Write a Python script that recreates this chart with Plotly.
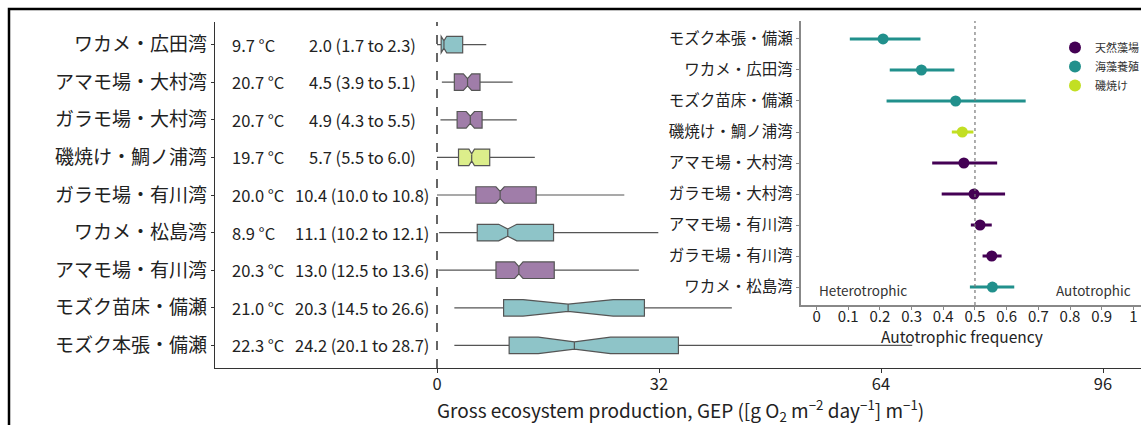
import plotly.graph_objects as go

W, H = 1141, 425
FONT = "Noto Sans CJK JP"

# ---- main panel data ----
sites = ["ワカメ・広田湾", "アマモ場・大村湾", "ガラモ場・大村湾", "磯焼け・鯛ノ浦湾", "ガラモ場・有川湾",
         "ワカメ・松島湾", "アマモ場・有川湾", "モズク苗床・備瀬", "モズク本張・備瀬"]
groups = ["海藻養殖", "天然藻場", "天然藻場", "磯焼け", "天然藻場", "海藻養殖", "天然藻場", "海藻養殖", "海藻養殖"]
gep_min = [0.0, 0.7, 0.5, 0.0, 0.0, 0.3, 0.2, 2.5, 2.5]
gep_q1 = [0.6, 2.5, 2.9, 3.1, 5.6, 5.8, 8.5, 9.6, 10.4]
gep_med = [1.0, 4.4, 4.8, 5.0, 9.1, 10.2, 11.8, 18.9, 19.8]
gep_q3 = [3.7, 6.2, 6.5, 7.6, 14.3, 16.8, 16.9, 29.9, 34.8]
gep_max = [7.1, 10.9, 11.5, 14.1, 27.0, 31.9, 29.1, 42.5, 68.5]
gep_notch = [0.4, 0.6, 0.6, 0.4, 0.6, 1.3, 0.6, 6.5, 5.2]
temps = ["9.7 °C", "20.7 °C", "20.7 °C", "19.7 °C", "20.0 °C", "8.9 °C", "20.3 °C", "21.0 °C", "22.3 °C"]
gep_text = ["2.0 (1.7 to 2.3)", "4.5 (3.9 to 5.1)", "4.9 (4.3 to 5.5)", "5.7 (5.5 to 6.0)",
            "10.4 (10.0 to 10.8)", "11.1 (10.2 to 12.1)", "13.0 (12.5 to 13.6)",
            "20.3 (14.5 to 26.6)", "24.2 (20.1 to 28.7)"]
x_ticks = [0, 32, 64, 96]
x_title = "Gross ecosystem production, GEP ([g O<sub>2</sub> m<sup>−2</sup> day<sup>−1</sup>] m<sup>−1</sup>)"

# ---- inset data ----
inset_sites = ["モズク本張・備瀬", "ワカメ・広田湾", "モズク苗床・備瀬", "磯焼け・鯛ノ浦湾", "アマモ場・大村湾",
               "ガラモ場・大村湾", "アマモ場・有川湾", "ガラモ場・有川湾", "ワカメ・松島湾"]
inset_groups = ["海藻養殖", "海藻養殖", "海藻養殖", "磯焼け", "天然藻場", "天然藻場", "天然藻場", "天然藻場", "海藻養殖"]
auto_freq = [0.21, 0.331, 0.439, 0.46, 0.465, 0.497, 0.516, 0.553, 0.555]
auto_lo = [0.105, 0.231, 0.221, 0.427, 0.365, 0.395, 0.487, 0.524, 0.484]
auto_hi = [0.328, 0.435, 0.66, 0.495, 0.57, 0.595, 0.553, 0.584, 0.624]
inset_ticks = [0, 0.1, 0.2, 0.3, 0.4, 0.5, 0.6, 0.7, 0.8, 0.9, 1]
inset_ticktext = ["0", "0.1", "0.2", "0.3", "0.4", "0.5", "0.6", "0.7", "0.8", "0.9", "1"]
legend_order = ["天然藻場", "海藻養殖", "磯焼け"]

box_fill = {"天然藻場": "#A07DA9", "海藻養殖": "#8EC4C8", "磯焼け": "#DCEE8B"}
dot_col = {"天然藻場": "#440154", "海藻養殖": "#21908C", "磯焼け": "#C2DF23"}

fig = go.Figure()

for i, s in enumerate(sites):
    fig.add_trace(go.Box(
        y=[s], q1=[gep_q1[i]], median=[gep_med[i]], q3=[gep_q3[i]],
        lowerfence=[gep_min[i]], upperfence=[gep_max[i]], notchspan=[gep_notch[i]],
        notched=True, notchwidth=0.28, orientation="h", boxpoints=False,
        fillcolor=box_fill[groups[i]], line=dict(color="#555555", width=1.2),
        whiskerwidth=0, width=0.44, showlegend=False, hoverinfo="skip",
        xaxis="x", yaxis="y"))

for g in legend_order:
    idx = [i for i, gg in enumerate(inset_groups) if gg == g]
    fig.add_trace(go.Scatter(
        x=[auto_freq[i] for i in idx], y=[inset_sites[i] for i in idx],
        mode="markers", name=g,
        marker=dict(color=dot_col[g], size=11),
        error_x=dict(type="data", symmetric=False,
                     array=[auto_hi[i] - auto_freq[i] for i in idx],
                     arrayminus=[auto_freq[i] - auto_lo[i] for i in idx],
                     color=dot_col[g], thickness=3.2, width=0),
        xaxis="x2", yaxis="y2"))


def px(x):
    return x / W


def py(y):
    return 1 - y / H


ann = []
for i, s in enumerate(sites):
    ann.append(dict(x=-29.8, y=s, xref="x", yref="y", text=temps[i], showarrow=False,
                    xanchor="left", font=dict(size=16.5, color="#222", family=FONT)))
    ann.append(dict(x=-10.8, y=s, xref="x", yref="y", text=gep_text[i], showarrow=False,
                    xanchor="center", font=dict(size=16.5, color="#222", family=FONT)))
ann.append(dict(x=0, y=inset_sites[-1], xref="x2", yref="y2", text="Heterotrophic", showarrow=False,
                xanchor="left", yshift=-3, font=dict(size=13.5, color="#333", family=FONT)))
ann.append(dict(x=1.0, y=inset_sites[-1], xref="x2", yref="y2", text="Autotrophic", showarrow=False,
                xanchor="right", yshift=-3, font=dict(size=13.5, color="#333", family=FONT)))
ann.append(dict(x=px(961.7), y=py(336), xref="paper", yref="paper", text="Autotrophic frequency",
                showarrow=False, xanchor="center", yanchor="middle",
                font=dict(size=15.5, color="#222", family=FONT)))
ann.append(dict(x=px(680), y=py(410), xref="paper", yref="paper", text=x_title,
                showarrow=False, xanchor="center", yanchor="middle",
                font=dict(size=19, color="#222", family=FONT)))

shapes = [
    dict(type="line", xref="x", yref="y domain", x0=0, x1=0, y0=0, y1=1,
         line=dict(color="black", width=1.2, dash="dash")),
    dict(type="line", xref="x2", yref="y2 domain", x0=0.5, x1=0.5, y0=0, y1=1,
         line=dict(color="#777", width=1.2, dash="dot")),
    dict(type="path", xref="paper", yref="paper",
         path=f"M {px(9)} 0 L {px(9)} {py(9)} L 1 {py(9)}",
         line=dict(color="black", width=2.5)),
]

fig.update_layout(
    width=W, height=H, margin=dict(l=0, r=0, t=0, b=0, autoexpand=False),
    paper_bgcolor="white", plot_bgcolor="rgba(0,0,0,0)",
    font=dict(family=FONT, color="#222"),
    showlegend=True,
    legend=dict(x=px(1055), y=py(33), xanchor="left", yanchor="top",
                font=dict(size=11, color="#333", family=FONT), bgcolor="rgba(0,0,0,0)",
                itemsizing="constant", tracegroupgap=0, itemwidth=30),
    xaxis=dict(domain=[px(215), 1], range=[-32, (W - 437) / 6.9375],
               tickvals=x_ticks, ticktext=[str(t) for t in x_ticks],
               showgrid=False, zeroline=False, showline=True, linecolor="#333", linewidth=1.2,
               ticks="outside", ticklen=4, tickcolor="#333",
               tickfont=dict(size=16.5, color="#222"), ticklabelstandoff=-3,
               anchor="y"),
    yaxis=dict(domain=[py(368), py(22)], type="category", categoryarray=sites,
               range=[8.6, -0.6], showgrid=False, zeroline=False,
               showline=True, linecolor="#333", linewidth=1.2,
               ticks="outside", ticklen=3, tickcolor="#333",
               tickfont=dict(size=19, color="#222"), ticklabelstandoff=0,
               anchor="x"),
    xaxis2=dict(domain=[px(800.7), 1], range=[-0.05, (W - 816.7) / 316.7],
                tickvals=inset_ticks, ticktext=inset_ticktext,
                showgrid=False, zeroline=False, showline=True, linecolor="#888", linewidth=1.5,
                ticks="outside", ticklen=3, tickcolor="#888",
                tickfont=dict(size=15, color="#222"), ticklabelstandoff=-6,
                anchor="y2"),
    yaxis2=dict(domain=[py(305), py(21)], type="category", categoryarray=inset_sites,
                range=[8.58, -0.58], showgrid=False, zeroline=False,
                showline=True, linecolor="#888", linewidth=1.5,
                ticks="outside", ticklen=3, tickcolor="#888",
                tickfont=dict(size=15.5, color="#222"), ticklabelstandoff=0,
                anchor="x2"),
    annotations=ann, shapes=shapes,
)

fig.write_html("out.html")
